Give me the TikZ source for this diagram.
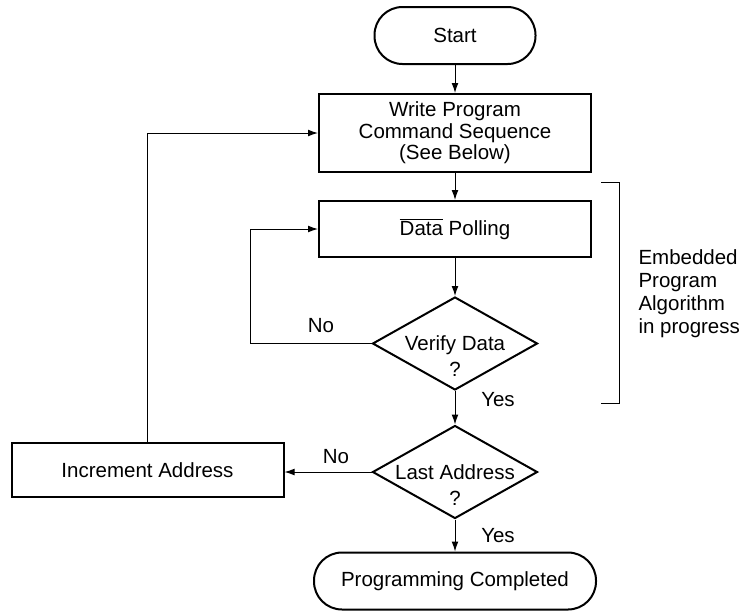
\documentclass[tikz,border=0pt]{standalone}
\usepackage{fontspec}
\setmainfont{Liberation Sans}
\usetikzlibrary{arrows.meta,shapes.geometric}

\begin{document}
\begin{tikzpicture}[x=0.5pt,y=-0.5pt,line width=0.5pt,
    font=\fontsize{10.25}{10.75}\selectfont,
    >={Latex[length=5pt,width=3.4pt]},
    term/.style={draw,line width=1pt,rounded corners=14pt,minimum height=28.5pt,inner sep=0pt},
    proc/.style={draw,line width=1pt,minimum width=136pt,inner sep=0pt,align=center},
    decision/.style={draw,line width=1pt,diamond,minimum width=82.5pt,minimum height=46.5pt,inner sep=0pt},
    dtext/.style={align=center,inner sep=0pt,font=\fontsize{10.25}{12.75}\selectfont}]
    \useasboundingbox(0,0)rectangle(745,612);
    \node[term,minimum width=80.5pt](start)at(455,35.5){Start};
    \node[proc,minimum height=39pt](write)at(455,133){Write Program\\Command Sequence\\(See Below)};
    \node[proc,minimum height=28pt](poll)at(455,229){$\overline{\hbox{Data}}$ Polling};
    \node[decision](verify)at(455,343.5){};
    \node[dtext](verifytxt)at(455,356){Verify Data\\?};
    \node[decision](last)at(455,472){};
    \node[dtext](lasttxt)at(455,485){Last Address\\?};
    \node[proc,minimum height=27pt](incr)at(147.5,470){Increment Address};
    \node[term,minimum width=141pt](done)at(455,581){Programming Completed};
    \coordinate(nobend)at(250,343.5);
    \draw[->](start)--(write);
    \draw[->](write)--(poll);
    \draw[->](poll)--(verify);
    \draw[->](verify)--(last);
    \draw[->](last)--(done);
    \draw[->](verify.west)--(nobend)|-(poll.west);
    \draw[->](last.west)--(incr.east|-last.west);
    \draw[->](incr.north)|-(write.west);
    \node(nopoll)at(321,326){No};
    \node(noaddr)at(336,457){No};
    \node(yesdata)at(498,400){Yes};
    \node(yesaddr)at(498,536){Yes};
    \draw(601,182)--(619,182)--(619,403)--(601,403);
    \node[align=left,anchor=west,inner sep=0pt,font=\fontsize{10.25}{11.5}\selectfont](algo)at(638,293.5){Embedded\\Program\\Algorithm\\in progress};
\end{tikzpicture}
\end{document}
